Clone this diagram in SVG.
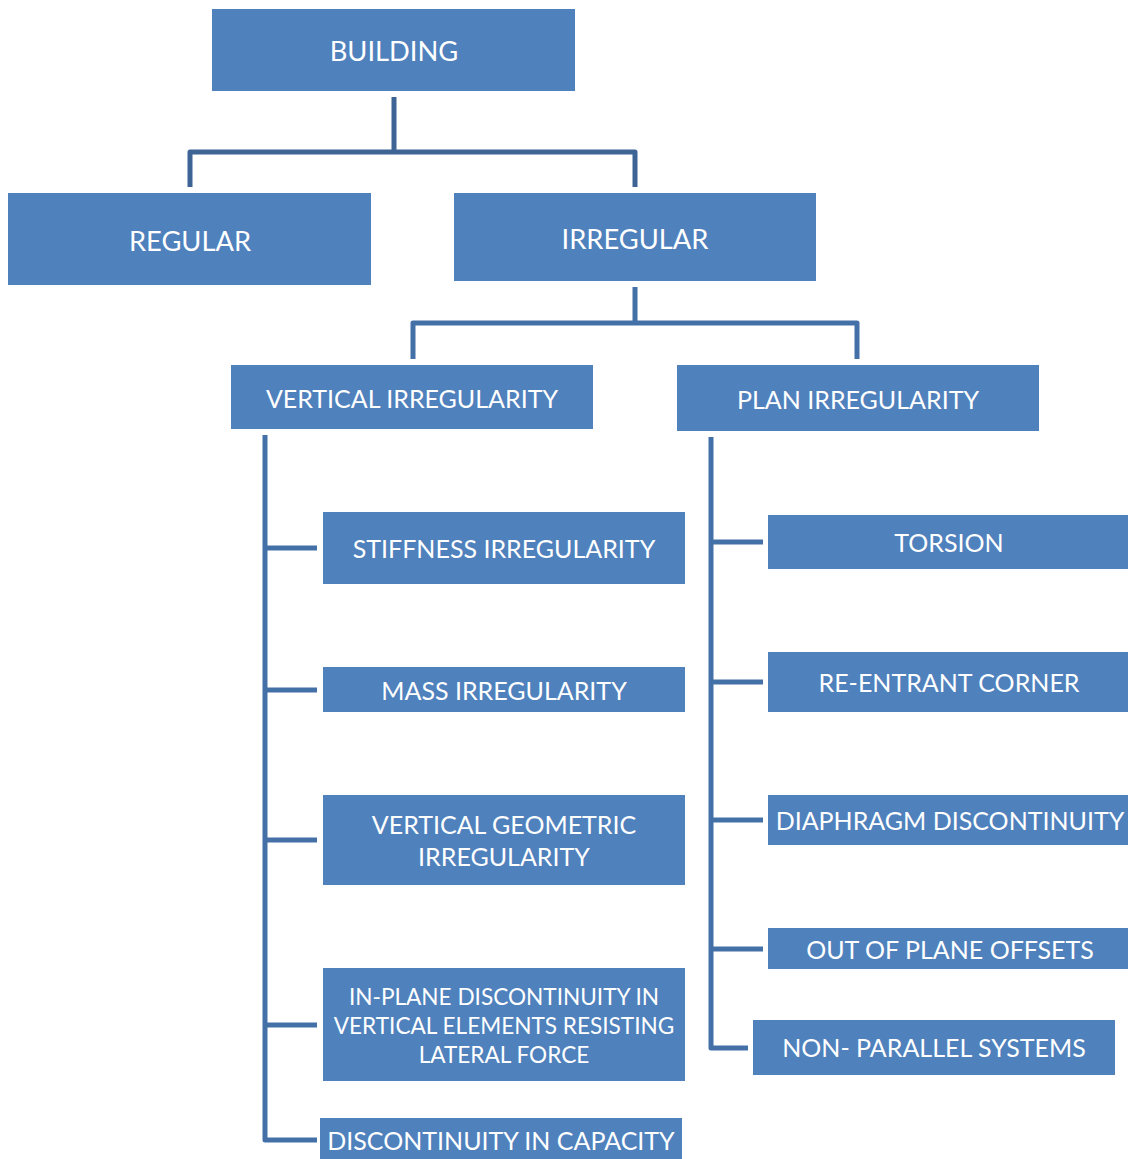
<svg xmlns="http://www.w3.org/2000/svg" width="1128" height="1159" viewBox="0 0 1128 1159">
<style>
.box{fill:#4F81BD}
.t{fill:#ffffff;font-family:Lato,"Open Sans",sans-serif;font-size:25px;text-anchor:middle;dominant-baseline:central}
.big{font-size:27.3px}
.sm{font-size:22.6px}
.c{fill:none;stroke:#4470A8;stroke-width:5;stroke-linejoin:round}
.c1{stroke:#3E6496}
</style>
<rect width="1128" height="1159" fill="#ffffff"/>
<g id="connectors">
<path class="c c1" d="M394 97V152M190 187V152H635V187"/>
<path class="c" d="M635 287V323M413 359V323H857V359"/>
<path class="c" d="M265 435V1140H317M265 548H317M265 690H317M265 840H317M265 1025H317"/>
<path class="c" d="M711 437V1048H748M711 542H763M711 682H763M711 820H763M711 949H763"/>
</g>
<g id="building"><rect class="box" x="212" y="9" width="363" height="82"/><text class="t big" x="394" y="50">BUILDING</text></g>
<g id="regular"><rect class="box" x="8" y="193" width="363" height="92"/><text class="t big" x="190" y="240">REGULAR</text></g>
<g id="irregular"><rect class="box" x="454" y="193" width="362" height="88"/><text class="t big" x="635" y="238">IRREGULAR</text></g>
<g id="vertical-irregularity"><rect class="box" x="231" y="365" width="362" height="64"/><text class="t" x="412" y="398">VERTICAL IRREGULARITY</text></g>
<g id="plan-irregularity"><rect class="box" x="677" y="365" width="362" height="66"/><text class="t" x="858" y="399">PLAN IRREGULARITY</text></g>
<g id="stiffness"><rect class="box" x="323" y="512" width="362" height="72"/><text class="t" x="504" y="548">STIFFNESS IRREGULARITY</text></g>
<g id="mass"><rect class="box" x="323" y="667" width="362" height="45"/><text class="t" x="504" y="690">MASS IRREGULARITY</text></g>
<g id="vertical-geometric"><rect class="box" x="323" y="795" width="362" height="90"/><text class="t" x="504" y="824">VERTICAL GEOMETRIC</text><text class="t" x="504" y="856">IRREGULARITY</text></g>
<g id="in-plane"><rect class="box" x="323" y="968" width="362" height="113"/><text class="t sm" x="504" y="996">IN-PLANE DISCONTINUITY IN</text><text class="t sm" x="504" y="1025">VERTICAL ELEMENTS RESISTING</text><text class="t sm" x="504" y="1054">LATERAL FORCE</text></g>
<g id="discontinuity-capacity"><rect class="box" x="320" y="1118" width="362" height="41"/><text class="t" x="501" y="1140">DISCONTINUITY IN CAPACITY</text></g>
<g id="torsion"><rect class="box" x="768" y="515" width="360" height="54"/><text class="t" x="949" y="542">TORSION</text></g>
<g id="re-entrant"><rect class="box" x="768" y="652" width="360" height="60"/><text class="t" x="949" y="682">RE-ENTRANT CORNER</text></g>
<g id="diaphragm"><rect class="box" x="768" y="795" width="360" height="50"/><text class="t" x="950" y="820">DIAPHRAGM DISCONTINUITY</text></g>
<g id="out-of-plane"><rect class="box" x="768" y="928" width="360" height="41"/><text class="t" x="950" y="949">OUT OF PLANE OFFSETS</text></g>
<g id="non-parallel"><rect class="box" x="753" y="1020" width="362" height="55"/><text class="t" x="934" y="1047">NON- PARALLEL SYSTEMS</text></g>
</svg>
